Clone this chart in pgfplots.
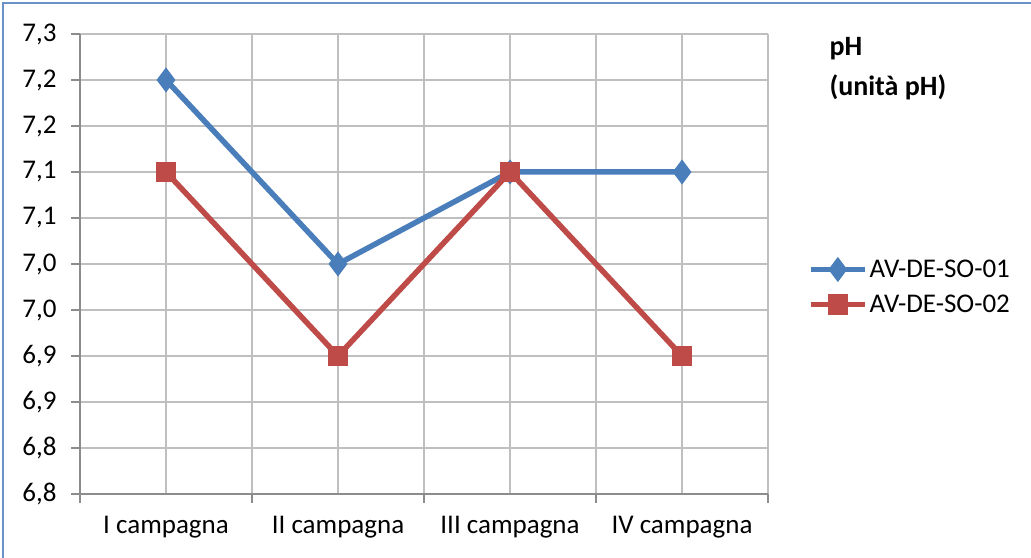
\documentclass[border=0pt]{standalone}
\usepackage{fontspec}
\setmainfont{Carlito}
\usepackage{pgfplots}
\pgfplotsset{compat=1.18}
\definecolor{serA}{HTML}{4A7EBB}
\definecolor{serB}{HTML}{BE4B48}
\definecolor{gridc}{HTML}{BFBFBF}
\definecolor{axc}{HTML}{8C8C8C}
\definecolor{frame}{HTML}{6A92C8}
\begin{document}
\begin{tikzpicture}[x=1bp,y=1bp]
\useasboundingbox (0,0) rectangle (1031,558);
\draw[frame, line width=2bp] (3,0) -- (3,555) -- (1031,555);
\begin{axis}[
  at={(80bp,64bp)}, anchor=south west,
  scale only axis, width=688bp, height=460bp,
  xmin=0.5, xmax=4.5, ymin=6.8, ymax=7.3,
  axis lines=left, axis line style={axc, line width=1.2bp, -},
  xtick={1,2,3,4},
  xticklabels={I campagna, II campagna, III campagna, IV campagna},
  minor xtick={0.5,1.5,2.5,3.5,4.5},
  major x tick style={draw=none},
  minor x tick style={axc, line width=1.2bp},
  ytick={6.8,6.85,6.9,6.95,7.0,7.05,7.1,7.15,7.2,7.25,7.3},
  yticklabels={6{,}8,6{,}8,6{,}9,6{,}9,7{,}0,7{,}0,7{,}1,7{,}1,7{,}2,7{,}2,7{,}3},
  y tick style={axc, line width=1.2bp},
  tick align=outside, major tick length=9bp, minor tick length=9bp,
  xmajorgrids, xminorgrids, ymajorgrids,
  grid style={gridc, line width=1.2bp},
  tick label style={font=\fontsize{27bp}{30bp}\selectfont, black},
  xticklabel style={yshift=-10bp},
  yticklabel style={xshift=-11bp},
  legend style={at={(1.058,0.45)}, anchor=west, draw=none, fill=none,
    font=\fontsize{27bp}{30bp}\selectfont, row sep=12bp,
    cells={anchor=west}, inner sep=0pt},
  legend image code/.code={\draw[mark repeat=2,mark phase=2,#1] plot coordinates {(0bp,0bp) (27bp,0bp) (54bp,0bp)};},
  clip=false,
]
\addplot[serA, line width=5.5bp, mark=diamond*, mark size=8bp, mark options={solid}]
  coordinates {(1,7.25) (2,7.05) (3,7.15) (4,7.15)};
\addlegendentry{AV-DE-SO-01}
\addplot[serB, line width=5.5bp, mark=square*, mark size=7.5bp, mark options={solid}]
  coordinates {(1,7.15) (2,6.95) (3,7.15) (4,6.95)};
\addlegendentry{AV-DE-SO-02}
\end{axis}
\node[anchor=west, font=\fontsize{28bp}{32bp}\selectfont\bfseries] at (826,509) {pH};
\node[anchor=west, font=\fontsize{28bp}{32bp}\selectfont\bfseries] at (826,471) {(unità pH)};
\end{tikzpicture}
\end{document}
